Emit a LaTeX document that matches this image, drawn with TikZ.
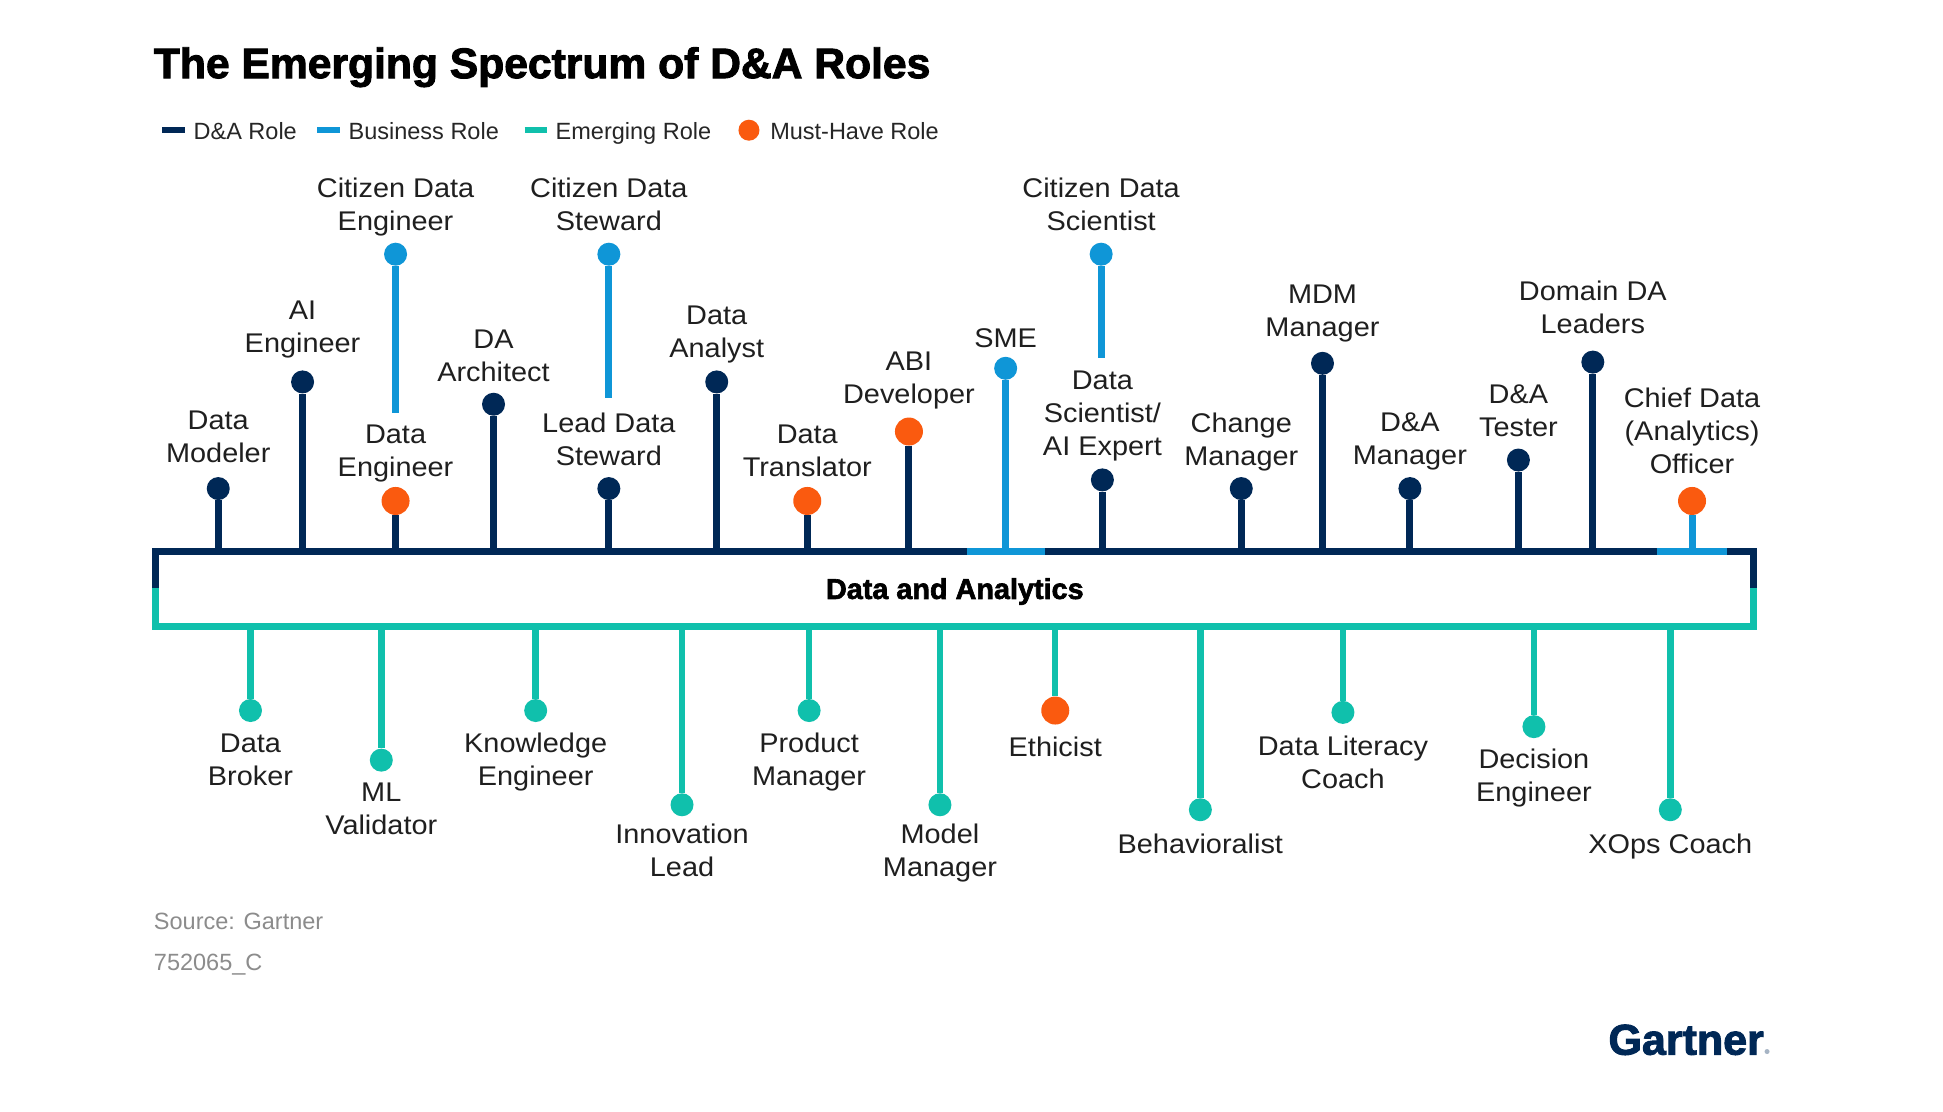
\documentclass[tikz,border=0pt]{standalone}
\usepackage{fontspec}
\setmainfont{Liberation Sans}
\newfontfamily\titlefont[BoldFeatures={FakeBold=2.2}]{Liberation Sans}
\newfontfamily\rolefont[FakeStretch=1.07]{Liberation Sans}
\definecolor{navy}{HTML}{002856}
\definecolor{bizblue}{HTML}{0F96D7}
\definecolor{teal}{HTML}{10C0AC}
\definecolor{mustorange}{HTML}{FA5A0F}
\definecolor{srcgray}{HTML}{8C8C8C}
\tikzset{
  x=1.24pt,y=-1.24pt,
  stem/.style={line width=7pt},
  stemlow/.style={line width=6.4pt},
  bar/.style={line width=7pt},
  dot/.style={circle,fill=#1,inner sep=0pt,minimum size=23pt},
  bigdot/.style={circle,fill=#1,inner sep=0pt,minimum size=28pt},
  rolelabel/.style={align=center,text=black!88,inner sep=0pt,yshift=-5pt,
    font=\rolefont\fontsize{27}{33}\selectfont,
    execute at begin node=\strut,execute at end node=\strut},
  legendlabel/.style={anchor=base west,inner sep=0pt,text=black!85,font=\fontsize{23.5}{28}\selectfont},
  srclabel/.style={anchor=base west,inner sep=0pt,text=srcgray,font=\fontsize{23.5}{28}\selectfont},
  swatch/.style={line width=5.5pt},
}
% name, x, dot y, dot style, stem colour, label y, text
\newcommand{\uprole}[7]{%
  \node[#4] (#1) at (#2,#3) {};
  \node[rolelabel] (#1L) at (#2,#6) {#7};
  \draw[stem,#5] (#1) -- (#1 |- barTop);
}
\newcommand{\lowrole}[7]{%
  \node[#4] (#1) at (#2,#3) {};
  \node[rolelabel] (#1L) at (#2,#6) {#7};
  \draw[stemlow,#5] (#1) -- (#1 |- barBot);
}
% name, x, dot y, end y, label y, text
\newcommand{\citizen}[6]{%
  \node[dot=bizblue] (#1) at (#2,#3) {};
  \coordinate (#1E) at (#2,#4);
  \node[rolelabel] (#1L) at (#2,#5) {#6};
  \draw[stem,bizblue] (#1) -- (#1E);
}
\begin{document}
\begin{tikzpicture}
\useasboundingbox (0,0) rectangle (1566.9,896);
\fill[white] (0,0) rectangle (1566.9,896);
% title
\node[anchor=base west,inner sep=0pt,font=\titlefont\fontsize{42.6}{48}\selectfont\bfseries] (title) at (124,63) {The Emerging Spectrum of D\&A Roles};
% legend
\coordinate (s1a) at (131,105); \coordinate (s1b) at (149,105);
\coordinate (s2a) at (256,105); \coordinate (s2b) at (274,105);
\coordinate (s3a) at (423,105); \coordinate (s3b) at (441,105);
\draw[swatch,navy] (s1a) -- (s1b);
\draw[swatch,bizblue] (s2a) -- (s2b);
\draw[swatch,teal] (s3a) -- (s3b);
\node[circle,fill=mustorange,inner sep=0pt,minimum size=21pt] (s4) at (604,105) {};
\node[legendlabel] (l1) at (156,112.5) {D\&A Role};
\node[legendlabel] (l2) at (281,112.5) {Business Role};
\node[legendlabel] (l3) at (448,112.5) {Emerging Role};
\node[legendlabel] (l4) at (621,112.5) {Must-Have Role};
% frame
\coordinate (barTop) at (0,445);
\coordinate (barBot) at (0,505.5);
\node[inner sep=0pt,font=\titlefont\fontsize{28.8}{32}\selectfont\bfseries] (da) at (770,477) {Data and Analytics};
\draw[bar,teal,line cap=butt] (125.4,474) -- (125.4,505.5) -- (1414,505.5) -- (1414,474);
\draw[bar,navy] (125.4,474) -- (125.4,445) -- (1414,445) -- (1414,474);
\draw[bar,bizblue] (780,445) -- (843,445);
\draw[bar,bizblue] (1336,445) -- (1393,445);
% upper roles
\uprole{dm}{176}{394}{dot=navy}{navy}{352.5}{Data\\Modeler}
\uprole{ai}{244}{308}{dot=navy}{navy}{263.5}{AI\\Engineer}
\uprole{de}{319}{404}{bigdot=mustorange}{navy}{363.5}{Data\\Engineer}
\uprole{ar}{398}{326}{dot=navy}{navy}{286.5}{DA\\Architect}
\uprole{ls}{491}{394}{dot=navy}{navy}{354.5}{Lead Data\\Steward}
\uprole{an}{578}{308}{dot=navy}{navy}{267.5}{Data\\Analyst}
\uprole{tr}{651}{404}{bigdot=mustorange}{navy}{363.5}{Data\\Translator}
\uprole{ab}{733}{348}{bigdot=mustorange}{navy}{304.5}{ABI\\Developer}
\uprole{sm}{811}{297}{dot=bizblue}{bizblue}{271}{SME}
\uprole{ds}{889}{387}{dot=navy}{navy}{333}{Data\\Scientist/\\AI Expert}
\uprole{cm}{1001}{394}{dot=navy}{navy}{354}{Change\\Manager}
\uprole{mm}{1066.5}{293}{dot=navy}{navy}{250.5}{MDM\\Manager}
\uprole{dam}{1137}{394}{dot=navy}{navy}{354}{D\&A\\Manager}
\uprole{dt}{1224.5}{371}{dot=navy}{navy}{331.5}{D\&A\\Tester}
\uprole{dl}{1284.5}{292}{dot=navy}{navy}{248}{Domain DA\\Leaders}
\uprole{cd}{1364.5}{404}{bigdot=mustorange}{bizblue}{347}{Chief Data\\(Analytics)\\Officer}
% citizen roles
\citizen{cde}{319}{205}{333}{165}{Citizen Data\\Engineer}
\citizen{cst}{491}{205}{321}{165}{Citizen Data\\Steward}
\citizen{csc}{888}{205}{289}{165}{Citizen Data\\Scientist}
% lower roles
\lowrole{br}{202}{573}{dot=teal}{teal}{612.5}{Data\\Broker}
\lowrole{ml}{307.5}{613}{dot=teal}{teal}{652}{ML\\Validator}
\lowrole{ke}{432}{573}{dot=teal}{teal}{612.5}{Knowledge\\Engineer}
\lowrole{il}{550}{649}{dot=teal}{teal}{686}{Innovation\\Lead}
\lowrole{pm}{652.5}{573}{dot=teal}{teal}{612.5}{Product\\Manager}
\lowrole{mo}{758}{649}{dot=teal}{teal}{686}{Model\\Manager}
\lowrole{et}{851}{573}{bigdot=mustorange}{teal}{601}{Ethicist}
\lowrole{be}{968}{653}{dot=teal}{teal}{679}{Behavioralist}
\lowrole{li}{1083}{574.5}{dot=teal}{teal}{614.5}{Data Literacy\\Coach}
\lowrole{dn}{1237}{586}{dot=teal}{teal}{625.5}{Decision\\Engineer}
\lowrole{xo}{1347}{653}{dot=teal}{teal}{679}{XOps Coach}
% source
\node[srclabel] (src) at (124,749.5) {Source: Gartner};
\node[srclabel] (code) at (124,782.5) {752065\_C};
% logo
\node[anchor=base west,inner sep=0pt,text=navy,font=\titlefont\fontsize{43}{50}\selectfont\bfseries] (logo) at (1297,850.5) {Gartner};
\node[circle,fill=navy!35,inner sep=0pt,minimum size=5pt] (reg) at (1425,848) {};
\end{tikzpicture}
\end{document}
